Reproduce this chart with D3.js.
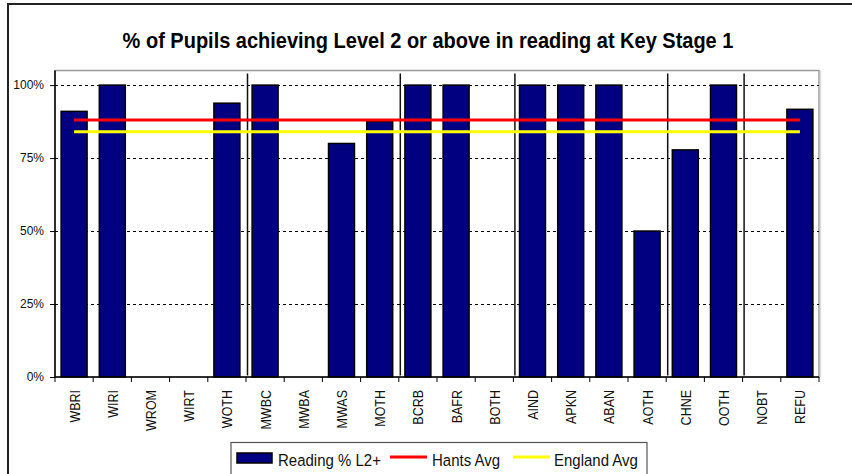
<!DOCTYPE html>
<html lang="en">
<head>
  <meta charset="UTF-8">
  <title>KS1 Reading</title>
  <script src="https://d3js.org/d3.v7.min.js"></script>
  <style>
    body { margin: 0; background: #fff; }
    text { font-family: "Liberation Sans", Arial, sans-serif; }
  </style>
</head>
<body>
<div id="chart"></div>
<script>
// ethnic group codes
var categories = ["WBRI","WIRI","WROM","WIRT","WOTH","MWBC","MWBA","MWAS","MOTH","BCRB",
                  "BAFR","BOTH","AIND","APKN","ABAN","AOTH","CHNE","OOTH","NOBT","REFU"];
// % achieving L2+
var readingPct = [0.91, 1.00, 0, 0, 0.938, 1.00, 0, 0.80, 0.875, 1.00,
                  1.00, 0, 1.00, 1.00, 1.00, 0.50, 0.778, 1.00, 0, 0.917];
var hantsAvg = 0.88;
var englandAvg = 0.84;
var yTicks = [0, 0.25, 0.5, 0.75, 1];
// group boundaries (index of the first code of each new group)
var groupStarts = [5, 9, 12, 16, 18];

var W = 852, H = 474;
var margin = {left: 55, right: 33, top: 70, bottom: 97};

var svg = d3.select("#chart").append("svg")
    .attr("width", W).attr("height", H);

// outer chart border
svg.append("rect")
    .attr("x", 8).attr("y", 4)
    .attr("width", W + 10).attr("height", H + 10)
    .attr("fill", "#fff").attr("stroke", "#222").attr("stroke-width", 2);

var x = d3.scaleBand().domain(categories)
    .range([margin.left, W - margin.right])
    .paddingInner(0.32).paddingOuter(0.16);
var y = d3.scaleLinear().domain([0, 1.05]).range([H - margin.bottom, margin.top + 0.5]);

var x0 = margin.left, x1 = W - margin.right;
var step = x.step();

/* ---- title ---- */
svg.append("text")
    .attr("transform", "translate(428,48) scale(1,1.08)")
    .attr("text-anchor", "middle")
    .style("font-size", "20px").style("font-weight", "bold")
    .text("% of Pupils achieving Level 2 or above in reading at Key Stage 1");

/* ---- plot area frame ---- */
svg.append("rect")
    .attr("x", x0).attr("y", y(1.05))
    .attr("width", x1 - x0).attr("height", y(0) - y(1.05))
    .attr("fill", "none").attr("stroke", "#999").attr("stroke-width", 1.5);
svg.append("line")
    .attr("x1", x1 + 1.5).attr("x2", x1 + 1.5)
    .attr("y1", y(1.05)).attr("y2", y(0))
    .attr("stroke", "#ddd").attr("stroke-width", 1.5);

/* ---- gridlines ---- */
svg.append("g").selectAll("line")
  .data(yTicks.filter(function(d) { return d > 0; }))
  .enter().append("line")
    .attr("x1", x0).attr("x2", x1)
    .attr("y1", function(d) { return Math.round(y(d)) + 0.5; })
    .attr("y2", function(d) { return Math.round(y(d)) + 0.5; })
    .attr("stroke", "#000").attr("stroke-width", 1)
    .attr("stroke-dasharray", "3,3");

/* ---- group separators ---- */
svg.append("g").selectAll("line")
  .data(groupStarts)
  .enter().append("line")
    .attr("x1", function(d) { return x0 + d * step + 1.5; })
    .attr("x2", function(d) { return x0 + d * step + 1.5; })
    .attr("y1", y(1.04)).attr("y2", y(0.005))
    .attr("stroke", "#111").attr("stroke-width", 1.5);

/* ---- bars ---- */
svg.append("g").selectAll("rect")
  .data(readingPct)
  .enter().append("rect")
    .attr("x", function(d, i) { return x(categories[i]); })
    .attr("width", x.bandwidth())
    .attr("y", function(d) { return y(d); })
    .attr("height", function(d) { return y(0) - y(d); })
    .attr("fill", function(d) { return d > 0 ? "#000080" : "none"; })
    .attr("stroke", function(d) { return d > 0 ? "#000" : "none"; })
    .attr("stroke-width", 1.5);

/* ---- average lines ---- */
var cFirst = x(categories[0]) + x.bandwidth() / 2;
var cLast = x(categories[categories.length - 1]) + x.bandwidth() / 2;
[[hantsAvg, "#ff0000"], [englandAvg, "#ffff00"]].forEach(function(a) {
  svg.append("line")
    .attr("x1", cFirst).attr("x2", cLast)
    .attr("y1", y(a[0])).attr("y2", y(a[0]))
    .attr("stroke", a[1]).attr("stroke-width", 3);
});

/* ---- axes ---- */
var yAxis = svg.append("g")
    .attr("transform", "translate(" + x0 + ",0)")
    .call(d3.axisLeft(y).tickValues(yTicks).tickFormat(d3.format(".0%"))
          .tickSize(5).tickPadding(6));
yAxis.select(".domain").attr("d", "M0," + y(1.05) + "V" + y(0)).attr("stroke-width", 1.5);
yAxis.selectAll("text").style("font-size", "12px").attr("fill", "#111");

var xAxis = svg.append("g")
    .attr("transform", "translate(0," + y(0) + ")");
xAxis.append("line")
    .attr("x1", x0).attr("x2", x1).attr("stroke", "#000").attr("stroke-width", 1.5);
xAxis.selectAll(".tk")
  .data(d3.range(categories.length + 1))
  .enter().append("line")
    .attr("x1", function(i) { return x0 + i * step; })
    .attr("x2", function(i) { return x0 + i * step; })
    .attr("y1", 0).attr("y2", 5)
    .attr("stroke", "#000").attr("stroke-width", 1);
xAxis.selectAll(".lbl")
  .data(categories)
  .enter().append("text")
    .attr("transform", function(d) {
      return "translate(" + (x(d) + x.bandwidth() / 2 + 5.5) + ",13) rotate(-90) scale(1,1.18)";
    })
    .attr("text-anchor", "end")
    .style("font-size", "12.5px")
    .attr("fill", "#111")
    .text(function(d) { return d; });

/* ---- legend ---- */
var lg = svg.append("g");
lg.append("rect")
    .attr("x", 231).attr("y", 442.5).attr("width", 416).attr("height", 60)
    .attr("fill", "#fff").attr("stroke", "#555").attr("stroke-width", 1.2);
lg.append("rect")
    .attr("x", 237).attr("y", 453).attr("width", 35).attr("height", 10)
    .attr("fill", "#000080").attr("stroke", "#000").attr("stroke-width", 1.5);
var legText = function(xx, s) {
  lg.append("text")
    .attr("transform", "translate(" + xx + ",466) scale(1,1.1)")
    .style("font-size", "15px").attr("fill", "#111").text(s);
};
legText(278, "Reading % L2+");
lg.append("line").attr("x1", 390).attr("x2", 427).attr("y1", 457).attr("y2", 457)
    .attr("stroke", "#ff0000").attr("stroke-width", 3);
legText(432, "Hants Avg");
lg.append("line").attr("x1", 513).attr("x2", 550).attr("y1", 457).attr("y2", 457)
    .attr("stroke", "#ffff00").attr("stroke-width", 3);
legText(554, "England Avg");
</script>
</body>
</html>
